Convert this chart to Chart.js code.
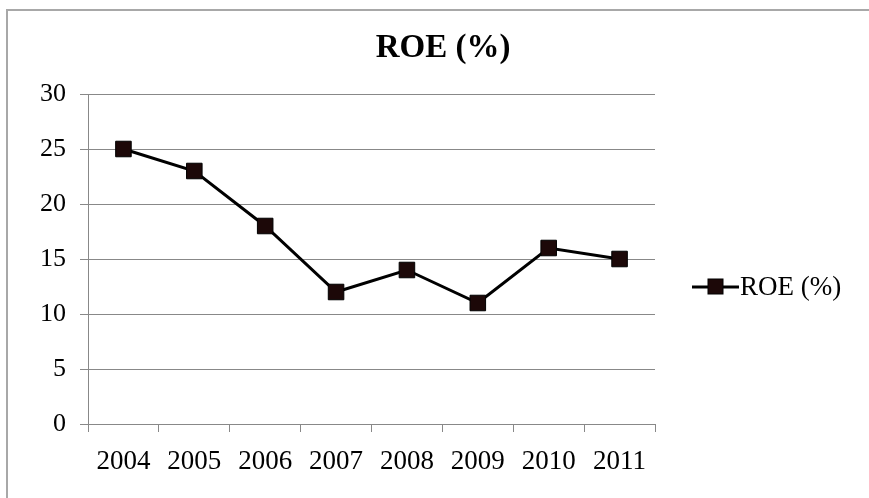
<!DOCTYPE html>
<html>
<head>
<meta charset="utf-8">
<script src="https://cdn.jsdelivr.net/npm/chart.js@4.4.0/dist/chart.umd.min.js"></script>
<style>
  html, body { margin: 0; padding: 0; background: #fff; }
  #wrap { position: relative; width: 869px; height: 498px; overflow: hidden; }
  #frame { position: absolute; left: 6px; top: 9px; right: -4px; bottom: -4px;
           border-left: 2px solid #a8a8a8; border-top: 2px solid #a8a8a8; }
  canvas { position: absolute; left: 0; top: 0; }
</style>
</head>
<body>
<div id="wrap">
  <div id="frame"></div>
  <canvas id="grafico" width="869" height="498"></canvas>
</div>
<script>
// datos
const chartTitle = 'ROE (%)';
const years = ['2004', '2005', '2006', '2007', '2008', '2009', '2010', '2011'];
const roe = [25, 23, 18, 12, 14, 11, 16, 15];
const yMin = 0, yMax = 30, yStep = 5;

const serif = '"Liberation Serif", "Times New Roman", serif';

// titulo y leyenda dibujados a mano (posicion como en el original)
const titleLegend = {
  id: 'titleLegend',
  afterDraw(chart) {
    const c = chart.ctx;
    const ds = chart.data.datasets[0];
    c.save();
    c.fillStyle = '#000';
    c.font = 'bold 33px ' + serif;
    c.textAlign = 'center';
    c.textBaseline = 'middle';
    c.fillText(chartTitle, 443, 48);

    // leyenda
    const ly = 287;
    c.strokeStyle = ds.borderColor;
    c.lineWidth = ds.borderWidth;
    c.beginPath();
    c.moveTo(692, ly);
    c.lineTo(739, ly);
    c.stroke();
    c.fillStyle = ds.pointBackgroundColor;
    c.fillRect(708, ly - 8, 15, 15);
    c.lineWidth = 1;
    c.strokeStyle = '#000';
    c.strokeRect(708, ly - 8, 15, 15);
    c.fillStyle = '#000';
    c.font = '27px ' + serif;
    c.textAlign = 'left';
    c.fillText(ds.label, 740, ly + 1);
    c.restore();
  }
};

const ctx = document.getElementById('grafico').getContext('2d');
const chart = new Chart(ctx, {
  type: 'line',
  data: {
    labels: years,
    datasets: [{
      label: 'ROE (%)',
      data: roe,
      borderColor: '#000',
      borderWidth: 3,
      tension: 0,
      pointStyle: 'rect',
      pointRadius: 11,
      pointHoverRadius: 11,
      pointBackgroundColor: '#1c0808',
      pointBorderColor: '#000',
      pointBorderWidth: 1
    }]
  },
  options: {
    responsive: false,
    animation: false,
    devicePixelRatio: 1,
    layout: { padding: { top: 94, right: 214, left: 0, bottom: 0 } },
    plugins: {
      legend: { display: false },
      title: { display: false },
      tooltip: { enabled: false }
    },
    scales: {
      x: {
        type: 'category',
        offset: true,
        grid: { offset: true, drawOnChartArea: false, drawTicks: true, tickLength: 8, color: '#888' },
        border: { color: '#888', width: 1 },
        ticks: { color: '#000', font: { family: serif, size: 27 }, padding: 14, maxRotation: 0, autoSkip: false },
        afterFit(s) { s.height = 74; }
      },
      y: {
        min: yMin,
        max: yMax,
        grid: { color: '#888', tickLength: 8 },
        border: { color: '#888', width: 1 },
        ticks: { stepSize: yStep, color: '#000', font: { family: serif, size: 26 }, padding: 14 },
        afterFit(s) { s.width = 88; }
      }
    }
  },
  plugins: [titleLegend]
});
</script>
</body>
</html>
